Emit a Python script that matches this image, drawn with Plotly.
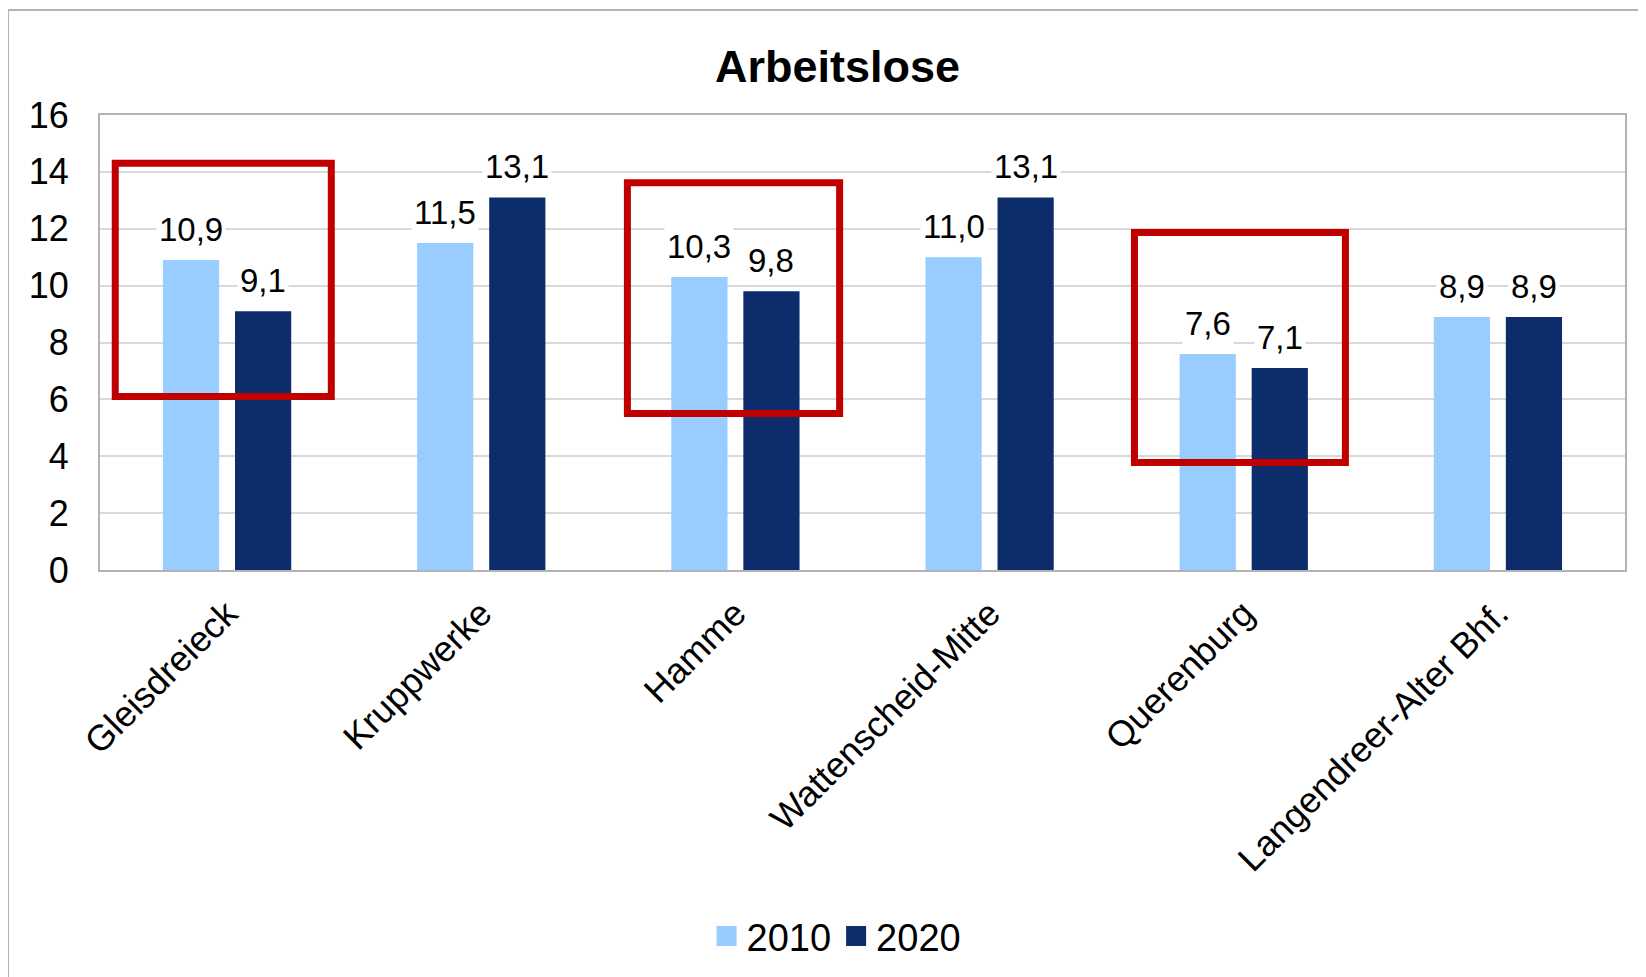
import plotly.graph_objects as go

# Daten (Arbeitslose, Anteil in %)
stadtteile = ["Gleisdreieck", "Kruppwerke", "Hamme", "Wattenscheid-Mitte",
              "Querenburg", "Langendreer-Alter Bhf."]
jahre = ["2010", "2020"]
werte_2010 = [10.9, 11.5, 10.3, 11.0, 7.6, 8.9]
werte_2020 = [9.1, 13.1, 9.8, 13.1, 7.1, 8.9]
y_ticks = [0, 2, 4, 6, 8, 10, 12, 14, 16]

COR_2010 = "#99ccff"
COR_2020 = "#0c2c6b"
COR_ROT = "#c00000"
COR_RAHMEN = "#b3b3b3"
FONT = "Liberation Sans, Arial, sans-serif"

fig = go.Figure()
for jahr, werte, cor in [(jahre[0], werte_2010, COR_2010), (jahre[1], werte_2020, COR_2020)]:
    fig.add_bar(x=stadtteile, y=werte, name=jahr, showlegend=False,
                marker=dict(color=cor, line=dict(width=0)))
    # Legendeneintrag mit quadratischem Symbol
    fig.add_scatter(x=[None], y=[None], mode="markers", name=jahr,
                    marker=dict(symbol="square", size=19, color=cor,
                                line=dict(color=cor, width=4)))

# Datenbeschriftungen mit weißem Hintergrund (unterbrechen Gitterlinien)
for werte, dx in [(werte_2010, -36), (werte_2020, 36)]:
    for cat, v in zip(stadtteile, werte):
        fig.add_annotation(
            x=cat, y=v, xref="x", yref="y", xshift=dx, yshift=9,
            yanchor="bottom", showarrow=False, text=f"{v:.1f}".replace(".", ","),
            font=dict(family=FONT, size=33, color="#000000"),
            bgcolor="white", borderpad=2,
        )

# rote Markierungsrahmen
for x0, x1, y0, y1 in [(-0.44, 0.41, 6.1, 14.3), (1.575, 2.41, 5.5, 13.62), (3.57, 4.40, 3.78, 11.87)]:
    fig.add_shape(type="rect", xref="x", yref="y", x0=x0, x1=x1, y0=y0, y1=y1,
                  line=dict(color=COR_ROT, width=7), fillcolor="rgba(0,0,0,0)")

# äußerer Diagrammrahmen
fig.add_shape(type="rect", xref="paper", yref="paper", x0=-0.0603, x1=1.05, y0=-1.2, y1=1.2308,
              line=dict(color=COR_RAHMEN, width=2), layer="below")

fig.update_layout(
    width=1646, height=977,
    margin=dict(l=92, r=29, t=107, b=415, autoexpand=False),
    paper_bgcolor="white", plot_bgcolor="white",
    font=dict(family=FONT, color="#000000"),
    title=dict(text="<b>Arbeitslose</b>", x=0.504, xref="container", xanchor="center",
               y=1 - 58 / 977, yanchor="middle",
               font=dict(family=FONT, size=45, color="#000000")),
    barmode="group", bargap=0.433, bargroupgap=0.22,
    showlegend=True,
    legend=dict(orientation="h", x=0.483, xanchor="center",
                y=-0.805, yanchor="middle", font=dict(family=FONT, size=38),
                itemwidth=30, traceorder="normal"),
)
fig.update_xaxes(type="category", tickangle=-45, tickfont=dict(family=FONT, size=36),
                 ticklabelstandoff=6,
                 showline=True, linecolor=COR_RAHMEN, linewidth=2, mirror=True,
                 ticks="", showgrid=False)
fig.update_yaxes(range=[0, 16], tickvals=y_ticks, tickfont=dict(family=FONT, size=36),
                 ticklabelstandoff=22,
                 showgrid=True, gridcolor="#d9d9d9", gridwidth=2,
                 showline=True, linecolor=COR_RAHMEN, linewidth=2, mirror=True,
                 ticks="", zeroline=False)

fig.write_html("out.html")
